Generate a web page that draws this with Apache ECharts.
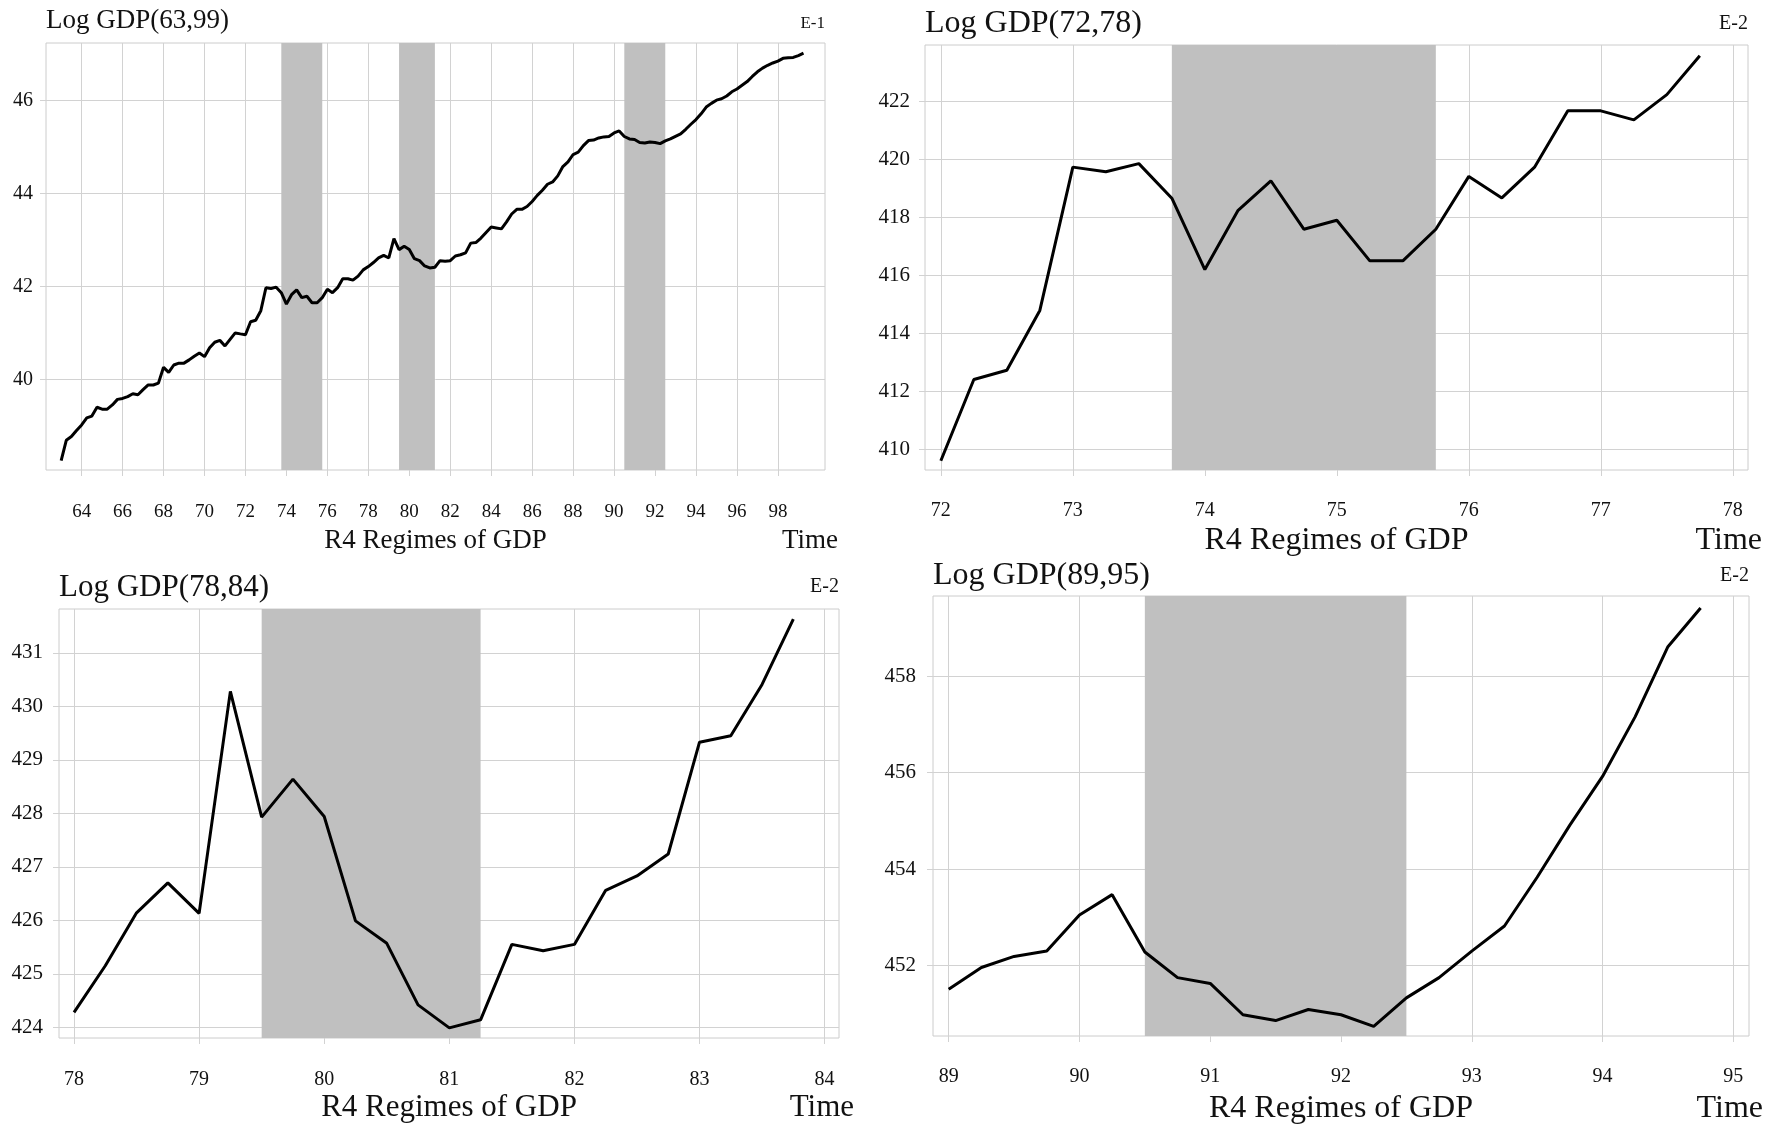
<!DOCTYPE html>
<html><head><meta charset="utf-8">
<script src="https://cdn.jsdelivr.net/npm/echarts@6/dist/echarts.min.js"></script>
<style>html,body{margin:0;padding:0;background:#fff}#c{width:1784px;height:1126px}</style>
</head><body><div id="c"></div>
<script>
// ---------- DATA ----------
// Log GDP x10 (E-1), quarterly
const gdp63to71 = [38.25, 38.69, 38.77, 38.90, 39.02, 39.17, 39.21, 39.40, 39.36, 39.36, 39.45, 39.57,
  39.59, 39.63, 39.69, 39.67, 39.78, 39.88, 39.88, 39.92, 40.26, 40.15, 40.31, 40.35,
  40.35, 40.42, 40.50, 40.57, 40.49, 40.68, 40.80, 40.84, 40.72, 40.86, 41.00, 40.98];
const gdp84to88 = [43.28, 43.26, 43.24, 43.39, 43.56, 43.66, 43.66, 43.72, 43.83, 43.96,
  44.07, 44.20, 44.25, 44.38, 44.58, 44.68, 44.84, 44.89, 45.03, 45.14];
const gdp95to99 = [46.01, 46.04, 46.10, 46.19, 46.25, 46.33, 46.41, 46.52, 46.62, 46.70,
  46.76, 46.81, 46.85, 46.91, 46.92, 46.93, 46.97, 47.02];
// Log GDP x100 (E-2), quarterly
const gdp72to78 = [409.61, 412.41, 412.73, 414.79, 419.73, 419.57, 419.85, 418.66, 416.20, 418.23,
  419.26, 417.59, 417.90, 416.50, 416.50, 417.59, 419.41, 418.67, 419.74, 421.67, 421.67, 421.36, 422.23, 423.57];
const gdp78to84 = [424.28, 425.15, 426.14, 426.70, 426.13, 430.28, 427.93, 428.64, 427.94, 425.99,
  425.57, 424.42, 423.99, 424.14, 425.55, 425.43, 425.55, 426.56, 426.83, 427.24, 429.33, 429.45, 430.41, 431.63];
const gdp89to95 = [451.51, 451.96, 452.19, 452.30, 453.05, 453.47, 452.28, 451.75, 451.63, 450.98,
  450.86, 451.09, 450.98, 450.74, 451.33, 451.75, 452.30, 452.82, 453.83, 454.91, 455.92, 457.16, 458.61, 459.41];

// regime (shaded) periods
const bandsAll = [[73.75, 75.75], [79.5, 81.25], [90.5, 92.5]];
const bands72 = [[73.75, 75.75]];
const bands78 = [[79.5, 81.25]];
const bands89 = [[90.5, 92.5]];

// tick labels
const xTicks1 = [64, 66, 68, 70, 72, 74, 76, 78, 80, 82, 84, 86, 88, 90, 92, 94, 96, 98];
const yTicks1 = [40, 42, 44, 46];
const xTicks2 = [72, 73, 74, 75, 76, 77, 78];
const yTicks2 = [410, 412, 414, 416, 418, 420, 422];
const xTicks3 = [78, 79, 80, 81, 82, 83, 84];
const yTicks3 = [424, 425, 426, 427, 428, 429, 430, 431];
const xTicks4 = [89, 90, 91, 92, 93, 94, 95];
const yTicks4 = [452, 454, 456, 458];

const titles = ['Log GDP(63,99)', 'Log GDP(72,78)', 'Log GDP(78,84)', 'Log GDP(89,95)'];
const scales = ['E-1', 'E-2', 'E-2', 'E-2'];
const xName = 'R4 Regimes of GDP';
const timeName = 'Time';

// ---------- BUILD ----------
function quarterly(start, vals) { return vals.map((v, i) => [start + i * 0.25, v]); }
const tenth = a => a.map(v => v / 10);
const p1 = quarterly(63, [].concat(gdp63to71, tenth(gdp72to78), tenth(gdp78to84), gdp84to88, tenth(gdp89to95), gdp95to99));
const p2 = quarterly(72, gdp72to78);
const p3 = quarterly(78, gdp78to84);
const p4 = quarterly(89, gdp89to95);

const FONT = '"Liberation Serif", "Times New Roman", serif';
const GRIDC = '#d2d2d2';
const panels = [
  {g: {left: 46, top: 43, width: 779, height: 427}, x: [62.26, 100.3], y: [38.05, 47.24], xt: xTicks1, yt: yTicks1, d: p1, b: bandsAll,
   fs: 19, xm: 33, ym: 13, tfs: 27, tY: 21, eFs: 17, eY: 24, nFs: 27, nY: 541, tmR: 13},
  {g: {left: 925, top: 45, width: 823, height: 425}, x: [71.88, 78.115], y: [409.29, 423.94], xt: xTicks2, yt: yTicks2, d: p2, b: bands72,
   fs: 20, xm: 31, ym: 15, tfs: 32, tY: 24, eFs: 20, eY: 24, nFs: 32, nY: 541, tmR: 14},
  {g: {left: 59, top: 609, width: 780, height: 429}, x: [77.88, 84.115], y: [423.80, 431.82], xt: xTicks3, yt: yTicks3, d: p3, b: bands78,
   fs: 20, xm: 32, ym: 16, tfs: 31, tY: 588, eFs: 20, eY: 587, nFs: 31, nY: 1108, tmR: 15},
  {g: {left: 933, top: 596, width: 816, height: 440}, x: [88.88, 95.12], y: [450.54, 459.66], xt: xTicks4, yt: yTicks4, d: p4, b: bands89,
   fs: 20, xm: 31, ym: 17, tfs: 32, tY: 576, eFs: 20, eY: 576, nFs: 32, nY: 1109, tmR: 14}
];

const grid = [], xAxis = [], yAxis = [], series = [], graphic = [];
panels.forEach((p, i) => {
  grid.push(Object.assign({show: true, borderColor: '#cccccc', borderWidth: 1, backgroundColor: 'transparent'}, p.g));
  xAxis.push({
    type: 'value', gridIndex: i, min: p.x[0], max: p.x[1],
    axisLine: {show: false},
    axisTick: {show: true, customValues: p.xt, length: 6, lineStyle: {color: GRIDC}},
    axisLabel: {customValues: p.xt, margin: p.xm, fontFamily: FONT, fontSize: p.fs, color: '#111'},
    splitLine: {show: true, lineStyle: {color: GRIDC, width: 1}}
  });
  yAxis.push({
    type: 'value', gridIndex: i, min: p.y[0], max: p.y[1],
    axisLine: {show: false},
    axisTick: {show: true, customValues: p.yt, length: 6, lineStyle: {color: GRIDC}},
    axisLabel: {customValues: p.yt, margin: p.ym, fontFamily: FONT, fontSize: p.fs + 1, color: '#111'},
    splitLine: {show: true, lineStyle: {color: GRIDC, width: 1}}
  });
  series.push({
    type: 'line', xAxisIndex: i, yAxisIndex: i, data: p.d, showSymbol: false, symbol: 'none',
    lineStyle: {color: '#000', width: 3}, z: 3, animation: false,
    markArea: {silent: true, itemStyle: {color: '#c0c0c0', opacity: 1}, data: p.b.map(b => [{xAxis: b[0]}, {xAxis: b[1]}])}
  });
  const L = p.g.left, R = p.g.left + p.g.width;
  graphic.push({type: 'text', x: L, y: p.tY, style: {text: titles[i], fontFamily: FONT, fontSize: p.tfs, fill: '#111', align: 'left', verticalAlign: 'middle'}});
  graphic.push({type: 'text', x: R, y: p.eY, style: {text: scales[i], fontFamily: FONT, fontSize: p.eFs, fill: '#111', align: 'right', verticalAlign: 'middle'}});
  graphic.push({type: 'text', x: (L + R) / 2, y: p.nY, style: {text: xName, fontFamily: FONT, fontSize: p.nFs, fill: '#111', align: 'center', verticalAlign: 'middle'}});
  graphic.push({type: 'text', x: R + p.tmR, y: p.nY, style: {text: timeName, fontFamily: FONT, fontSize: p.nFs, fill: '#111', align: 'right', verticalAlign: 'middle'}});
});

const chart = echarts.init(document.getElementById('c'), null, {renderer: 'canvas'});
chart.setOption({animation: false, backgroundColor: '#fff', grid, xAxis, yAxis, series, graphic});
</script></body></html>
